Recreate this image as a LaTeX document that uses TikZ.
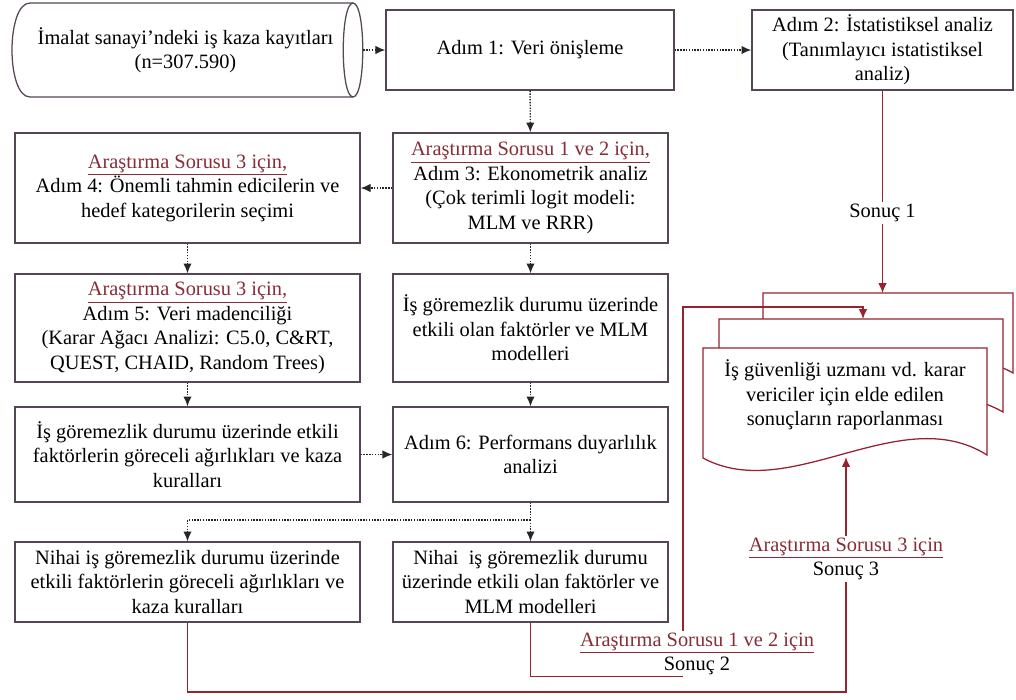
\documentclass[tikz,border=0pt]{standalone}
\usepackage{fontspec}
\setmainfont{Liberation Serif}
\usetikzlibrary{arrows.meta}
\definecolor{kenar}{RGB}{85,70,85}
\definecolor{kirmizi}{RGB}{150,35,45}
\definecolor{soruRenk}{RGB}{135,45,55}
\newcommand{\arsoru}[1]{\textcolor{soruRenk}{\underline{#1}}}
\tikzset{
  kutu/.style={draw=kenar,line width=.9pt,rectangle,align=center,inner sep=2pt},
  nokta/.style={densely dotted,line width=1pt,color=black!85},
  sonuc/.style={kirmizi,line width=.9pt},
  sayfa/.style={draw=kirmizi,fill=white,line width=.9pt},
  ucu/.style={-{Latex[length=7pt,width=6pt]}},
}

\begin{document}
\begin{tikzpicture}[x=0.025cm,y=-0.025cm,font=\fontsize{14.5}{17.4}\selectfont]
  \useasboundingbox (0,0) rectangle (1016,699);
  % ust sira
  \node[align=center,minimum width=8.875cm,minimum height=2.35cm,inner sep=0pt] (kayit) at (185.5,50) {İmalat sanayi’ndeki iş kaza kayıtları\\(n=307.590)};
  \draw[kenar,line width=.9pt] (353,3) -- (30,3) .. controls (6,3) and (6,97) .. (30,97) -- (353,97);
  \draw[kenar,line width=.9pt] (353,3) .. controls (366,3) and (366,97) .. (353,97) .. controls (340,97) and (340,3) .. (353,3);
  \node[kutu,minimum width=7.2cm,minimum height=2cm] (adim1) at (530,50) {Adım 1: Veri önişleme};
  \node[kutu,minimum width=6.525cm,minimum height=2cm] (adim2) at (882.5,50) {Adım 2: İstatistiksel analiz\\(Tanımlayıcı istatistiksel\\analiz)};
  % sol ve orta sutun
  \node[kutu,minimum width=8.625cm,minimum height=2.75cm] (adim4) at (187.5,188) {\arsoru{Araştırma Sorusu 3 için,}\\Adım 4: Önemli tahmin edicilerin ve\\hedef kategorilerin seçimi};
  \node[kutu,minimum width=6.875cm,minimum height=2.75cm] (adim3) at (530.5,188) {\arsoru{Araştırma Sorusu 1 ve 2 için,}\\Adım 3: Ekonometrik analiz\\(Çok terimli logit modeli:\\MLM ve RRR)};
  \node[kutu,minimum width=8.625cm,minimum height=2.7cm] (adim5) at (187.5,328) {\arsoru{Araştırma Sorusu 3 için,}\\Adım 5: Veri madenciliği\\(Karar Ağacı Analizi: C5.0, C\&RT,\\QUEST, CHAID, Random Trees)};
  \node[kutu,minimum width=6.875cm,minimum height=2.7cm] (mlm) at (530.5,328) {İş göremezlik durumu üzerinde\\etkili olan faktörler ve MLM\\modelleri};
  \node[kutu,minimum width=8.625cm,minimum height=2.375cm] (faktor) at (187.5,454.5) {İş göremezlik durumu üzerinde etkili\\faktörlerin göreceli ağırlıkları ve kaza\\kuralları};
  \node[kutu,minimum width=6.875cm,minimum height=2.375cm] (adim6) at (530.5,454.5) {Adım 6: Performans duyarlılık\\analizi};
  \node[kutu,minimum width=8.625cm,minimum height=2cm] (nihaiL) at (187.5,582) {Nihai iş göremezlik durumu üzerinde\\etkili faktörlerin göreceli ağırlıkları ve\\kaza kuralları};
  \node[kutu,minimum width=6.875cm,minimum height=2cm] (nihaiM) at (530.5,582) {Nihai~ iş göremezlik durumu\\üzerinde etkili olan faktörler ve\\MLM modelleri};
  % rapor sayfalari
  \filldraw[sayfa] (763,293) -- (1013,293) -- (1013,373) .. controls (950,335) and (850,420) .. (763,385) -- cycle;
  \filldraw[sayfa] (719,319) -- (1003,319) -- (1003,412) .. controls (916,362) and (806,457) .. (719,415) -- cycle;
  \filldraw[sayfa] (703,348) -- (987,348) -- (987,455) .. controls (900,400) and (790,505) .. (703,458) -- cycle;
  \node[align=center] (rapor) at (845,395) {İş güvenliği uzmanı vd. karar\\vericiler için elde edilen\\sonuçların raporlanması};
  \coordinate (arka) at (882.5,293);
  \coordinate (orta) at (863,319);
  \coordinate (dalga) at (846,457);
  \coordinate (donus) at (683,307);
  \coordinate (ayrim) at (530.5,520);
  \coordinate (alt) at (846,692);
  % sonuc etiketleri
  \node[inner sep=1pt] (sonuc1) at (882.5,213) {Sonuç 1};
  \node[inner sep=1pt,align=center] (sonuc2) at (697,654) {\arsoru{Araştırma Sorusu 1 ve 2 için}\\Sonuç 2};
  \node[inner sep=1pt,align=center] (sonuc3) at (846,559) {\arsoru{Araştırma Sorusu 3 için}\\Sonuç 3};
  % noktali oklar
  \draw[nokta,ucu] (kayit) -- (adim1);
  \draw[nokta,ucu] (adim1) -- (adim2);
  \draw[nokta,ucu] (adim1) -- (adim3);
  \draw[nokta,ucu] (adim3) -- (adim4);
  \draw[nokta,ucu] (adim4) -- (adim5);
  \draw[nokta,ucu] (adim3) -- (mlm);
  \draw[nokta,ucu] (adim5) -- (faktor);
  \draw[nokta,ucu] (mlm) -- (adim6);
  \draw[nokta,ucu] (faktor) -- (adim6);
  \draw[nokta] (adim6) -- (ayrim);
  \draw[nokta,ucu] (ayrim) -| (nihaiL);
  \draw[nokta,ucu] (ayrim) -- (nihaiM);
  % kirmizi sonuc yollari
  \draw[sonuc] (adim2) -- (sonuc1);
  \draw[sonuc,ucu] (sonuc1) -- (arka);
  \draw[sonuc] (nihaiM) |- (sonuc2.south -| donus);
  \draw[sonuc,ucu] (sonuc2.north -| donus) -- (donus) -| (orta);
  \draw[sonuc] (nihaiL) |- (alt) -- (sonuc3);
  \draw[sonuc,ucu] (sonuc3) -- (dalga);
\end{tikzpicture}
\end{document}
